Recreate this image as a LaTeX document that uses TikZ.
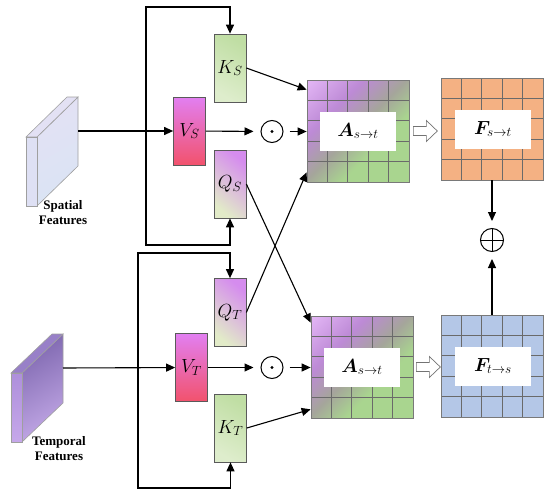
\documentclass[tikz,border=0pt]{standalone}
\usepackage{fix-cm}
\usepackage{fontspec}
\usepackage{amsmath,bm}
\usetikzlibrary{arrows.meta,calc}
\newfontfamily\capfont{Liberation Serif}
\definecolor{boxline}{HTML}{5A5A5A}
\definecolor{cellline}{HTML}{6A6A6A}
\definecolor{kdark}{HTML}{C0DEA4}
\definecolor{klight}{HTML}{DEEDCC}
\definecolor{vtop}{HTML}{E27FF2}
\definecolor{vbot}{HTML}{F2526C}
\definecolor{qtop}{HTML}{D58CEE}
\definecolor{qbot}{HTML}{E2EBC8}
\definecolor{alight}{HTML}{E3B6F5}
\definecolor{apurple}{HTML}{BD8AD6}
\definecolor{agray}{HTML}{A5A59B}
\definecolor{agreen}{HTML}{A9D58F}
\definecolor{forange}{HTML}{F4B183}
\definecolor{fblue}{HTML}{B4C7E7}
\definecolor{spfront}{HTML}{DEE0F4}
\definecolor{sptop}{HTML}{E3E1F4}
\definecolor{spside}{HTML}{DAE4F4}
\definecolor{tpfront}{HTML}{AE8FDB}
\definecolor{tpfrontb}{HTML}{C6A8EA}
\definecolor{tptop}{HTML}{9880C8}
\definecolor{tpside}{HTML}{7F68B0}
\definecolor{tpsideb}{HTML}{C2A8E6}
\pgfdeclareverticalshading{agrid}{100bp}{color(0bp)=(agreen); color(38bp)=(agreen);
  color(51bp)=(agray); color(66bp)=(apurple); color(85bp)=(alight); color(100bp)=(alight)}
\tikzset{
  link/.style={line width=1.1pt, -{Triangle[length=9pt,width=8pt]}},
  proj/.style={draw=boxline, line width=0.7pt, minimum width=32pt,
    minimum height=68pt, inner sep=0pt, font=\fontsize{19}{23}\selectfont},
  kbox/.style={proj, top color=kdark, bottom color=klight, shading angle=-30},
  vbox/.style={proj, top color=vtop, bottom color=vbot},
  qbox/.style={proj, top color=qtop, bottom color=qbot, shading angle=-40},
  gridmap/.style={draw=cellline!90, line width=0.7pt, minimum size=102pt, inner sep=0pt,
    path picture={
      \foreach \k in {0.2,0.4,0.6,0.8}{
        \draw[cellline, line width=0.7pt]
          ($(path picture bounding box.north west)!\k!(path picture bounding box.north east)$) --
          ($(path picture bounding box.south west)!\k!(path picture bounding box.south east)$);
        \draw[cellline, line width=0.7pt]
          ($(path picture bounding box.north west)!\k!(path picture bounding box.south west)$) --
          ($(path picture bounding box.north east)!\k!(path picture bounding box.south east)$);
      }}},
  labbox/.style={fill=white, minimum width=76pt, minimum height=39pt, inner sep=0pt,
    font=\fontsize{19}{23}\selectfont},
  odot/.style={circle, draw, line width=1pt, minimum size=22pt, inner sep=0pt,
    path picture={\fill (path picture bounding box.center) circle (1.6pt);}},
  oplus/.style={circle, draw, line width=1pt, minimum size=23pt, inner sep=0pt,
    path picture={
      \draw[line width=1pt] (path picture bounding box.north) -- (path picture bounding box.south);
      \draw[line width=1pt] (path picture bounding box.west) -- (path picture bounding box.east);}},
  hollow/.style={draw=gray!90!black, fill=white, line width=0.7pt, line join=miter},
  slabedge/.style={draw=gray!75, line width=0.6pt},
  featname/.style={font=\capfont\bfseries\fontsize{13}{15}\selectfont, align=center}
}

\begin{document}
\begin{tikzpicture}[x=1pt, y=-1pt]

\useasboundingbox (0,0) rectangle (550,498);

%--- Feature slabs ---

% spatial
\shade[slabedge, top color=sptop, bottom color=spside, shading angle=30]
  (37,137) -- (78,97) -- (78,166) -- (37,206) -- cycle;
\fill[sptop, slabedge] (26,137) -- (67,97) -- (78,97) -- (37,137) -- cycle;
\fill[spfront, slabedge] (26,137) rectangle (37,206);
\node[featname] (slab1) at (63,213) {Spatial\\Features};

% temporal
\shade[slabedge, top color=tpside, bottom color=tpsideb, shading angle=30]
  (22,373) -- (63,334) -- (63,403) -- (22,442) -- cycle;
\fill[tptop, slabedge] (11,373) -- (52,334) -- (63,334) -- (22,373) -- cycle;
\shade[slabedge, top color=tpfront, bottom color=tpfrontb] (11,373) rectangle (22,442);
\node[featname] (slab2) at (59,449) {Temporal\\Features};

\coordinate (sout)  at (78,131);
\coordinate (sjoin) at (146,131);
\coordinate (stop)  at (146,7);
\coordinate (sbot)  at (146,245);
\coordinate (tout)  at (63,368);
\coordinate (tjoin) at (138,368);
\coordinate (ttop)  at (138,253);
\coordinate (tbot)  at (138,488);

%--- Projections ---
\node[kbox] (ks) at (230,68)    {$K_S$};
\node[vbox] (vs) at (189.5,131) {$V_S$};
\node[qbox] (qs) at (230,184)   {$Q_S$};
\node[qbox] (qt) at (230,312.5) {$Q_T$};
\node[vbox] (vt) at (191.5,367.5) {$V_T$};
\node[kbox] (kt) at (230.5,428) {$K_T$};

\node[odot] (os) at (272,131.5) {};
\node[odot] (ot) at (272,367.5) {};

%--- Attention and output maps ---
\node[gridmap, shading=agrid, shading angle=45] (a1) at (358,131)   {};
\node[gridmap, shading=agrid, shading angle=45] (a2) at (362,367)   {};
\node[gridmap, fill=forange] (fs) at (492,129) {};
\node[gridmap, fill=fblue]   (ft) at (492,366) {};

\node[labbox] (a1lab) at (a1.center) {$\bm{A}_{s\to t}$};
\node[labbox] (a2lab) at (a2.center) {$\bm{A}_{s\to t}$};
\node[labbox] (fslab) at ([xshift=1pt]fs.center) {$\bm{F}_{s\to t}$};
\node[labbox] (ftlab) at ([xshift=1pt]ft.center) {$\bm{F}_{t\to s}$};

\node[oplus] (sum) at (492,240) {};

% hollow arrows between the maps
\draw[hollow] ([xshift=4pt]a1.east) ++(0,-4.5) -- ++(13,0) -- ++(0,-6) -- ++(11,10.5)
  -- ++(-11,10.5) -- ++(0,-6) -- ++(-13,0) -- cycle;
\draw[hollow] ([xshift=3pt]a2.east) ++(0,-4.5) -- ++(13,0) -- ++(0,-6) -- ++(11,10.5)
  -- ++(-11,10.5) -- ++(0,-6) -- ++(-13,0) -- cycle;

%--- Connectors ---
\draw[link] (sout) -- (vs);
\draw[link] (sjoin) -- (stop) -| (ks);
\draw[link] (sjoin) -- (sbot) -| (qs);
\draw[link] (tout) -- (vt);
\draw[link] (tjoin) -- (ttop) -| (qt);
\draw[link] (tjoin) -- (tbot) -| (kt);

\draw[link, shorten >=7pt] (vs) -- (os);
\draw[link, shorten >=7pt] (vt) -- (ot);
\draw[link, shorten <=6pt] (os) -- (os -| a1.west);
\draw[link, shorten <=6pt] (ot) -- (ot -| a2.west);

\draw[link] (ks.east) -- ([yshift=-10pt]a1.north west);
\draw[link] (qt.east) -- ([yshift=10pt]a1.south west);
\draw[link] (qs.east) -- ([yshift=-7pt]a2.north west);
\draw[link] (kt.east) -- ([yshift=9pt]a2.south west);

\draw[link, shorten >=7pt] (fs) -- (sum);
\draw[link, shorten >=7pt] (ft) -- (sum);

\end{tikzpicture}
\end{document}
